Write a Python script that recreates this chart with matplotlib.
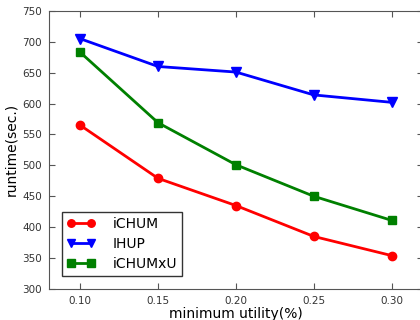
import matplotlib
matplotlib.use("Agg")
import matplotlib.pyplot as plt

x = [0.10, 0.15, 0.20, 0.25, 0.30]
ichum = [565, 479, 435, 385, 354]
ihup = [705, 660, 651, 614, 602]
ichumxu = [683, 569, 501, 450, 411]
xticks = [0.10, 0.15, 0.20, 0.25, 0.30]
xticklabels = ["0.10", "0.15", "0.20", "0.25", "0.30"]
yticks = [300, 350, 400, 450, 500, 550, 600, 650, 700, 750]

plt.rcParams['font.family'] = ['DejaVu Sans']
fig = plt.figure(figsize=(4.2, 3.2), dpi=100, facecolor='white')
ax = fig.add_axes([0.1167, 0.097, 0.890, 0.869])
ax.plot(x, ichum, color='red', marker='o', markersize=6, linewidth=2, label='iCHUM')
ax.plot(x, ihup, color='blue', marker='v', markersize=6.5, linewidth=2, label='IHUP')
ax.plot(x, ichumxu, color='green', marker='s', markersize=6, linewidth=2, label='iCHUMxU')
ax.set_xlim(0.08, 0.32)
ax.set_ylim(300, 750)
ax.set_xticks(xticks)
ax.set_xticklabels(xticklabels)
ax.set_yticks(yticks)
for s in ax.spines.values():
    s.set_color('#555555')
ax.tick_params(direction='in', top=True, right=True, labelsize=7.5, length=4, pad=5,
               color='#555555', labelcolor='#333333')
ax.set_xlabel('minimum utility(%)', fontsize=10, labelpad=1)
ax.set_ylabel('runtime(sec.)', fontsize=10, labelpad=3)
leg = ax.legend(loc='lower left', numpoints=2, fontsize=10, fancybox=False,
                handlelength=2.0, borderaxespad=0.94, labelspacing=0.43, borderpad=0.36,
                handletextpad=1.3, framealpha=1, markerscale=0.9)
leg.get_frame().set_edgecolor('#333333')
fig.savefig('out.png', dpi=100, facecolor='white')
